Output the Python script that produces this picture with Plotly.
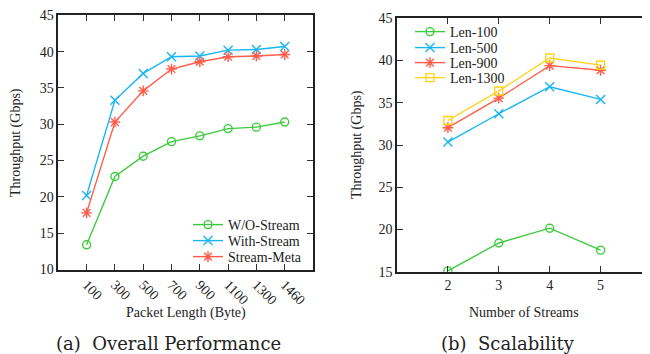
import plotly.graph_objects as go

# ---- data: panel (a) ----
pkt_len = ["100", "300", "500", "700", "900", "1100", "1300", "1460"]
wo_stream = [13.4, 22.8, 25.6, 27.6, 28.4, 29.4, 29.6, 30.3]
with_stream = [20.2, 33.3, 37.0, 39.3, 39.4, 40.2, 40.3, 40.7]
stream_meta = [17.8, 30.3, 34.6, 37.6, 38.6, 39.3, 39.4, 39.6]

# ---- data: panel (b) ----
n_streams = [2, 3, 4, 5]
len100 = [15.1, 18.4, 20.15, 17.55]
len500 = [30.35, 33.7, 36.9, 35.4]
len900 = [32.05, 35.55, 39.4, 38.85]
len1300 = [32.9, 36.4, 40.3, 39.45]

GREEN = "#3dcc3d"
CYAN = "#18b6f5"
RED = "#ff5d4a"
YELLOW = "#ffd21e"
FONT = "Times New Roman, Liberation Serif, Tinos, serif"
CAP_FONT = "DejaVu Serif"
W, H = 650, 354
OFF = 8  # page body margin offset


def px(x):
    return (x - OFF) / W


def py(y):
    return 1 - (y - OFF) / H


fig = go.Figure()


def add(x, y, name, color, symbol, xa, ya, legend, size=8):
    fig.add_trace(go.Scatter(
        x=x, y=y, name=name, mode="lines+markers",
        line=dict(color=color, width=1.4),
        marker=dict(symbol=symbol, size=size, color=color,
                    line=dict(color=color, width=1.4)),
        xaxis=xa, yaxis=ya, legend=legend,
    ))


add(pkt_len, wo_stream, "W/O-Stream", GREEN, "circle-open", "x", "y", "legend")
add(pkt_len, with_stream, "With-Stream", CYAN, "x-thin-open", "x", "y", "legend2", 9)
add(pkt_len, stream_meta, "Stream-Meta", RED, "asterisk-open", "x", "y", "legend3", 9)

add(n_streams, len100, "Len-100", GREEN, "circle-open", "x2", "y2", "legend4")
add(n_streams, len500, "Len-500", CYAN, "x-thin-open", "x2", "y2", "legend5", 9)
add(n_streams, len900, "Len-900", RED, "asterisk-open", "x2", "y2", "legend6", 9)
add(n_streams, len1300, "Len-1300", YELLOW, "square-open", "x2", "y2", "legend7")

axis_common = dict(
    showline=True, linecolor="#222", linewidth=1.5, mirror="ticks",
    ticks="inside", ticklen=6, tickcolor="#333", tickwidth=1,
    showgrid=False, zeroline=False, automargin=False,
    tickfont=dict(family=FONT, size=14, color="#222"),
)


def leg(x, y):
    return dict(x=px(x), y=py(y), xanchor="left", yanchor="middle",
                bgcolor="rgba(0,0,0,0)", font=dict(family=FONT, size=14, color="#222"),
                itemwidth=30, borderwidth=0)


fig.update_layout(
    width=W, height=H,
    margin=dict(l=0, r=0, t=0, b=0, autoexpand=False),
    paper_bgcolor="white", plot_bgcolor="white",
    font=dict(family=FONT, size=14, color="#222"),
    xaxis=dict(axis_common, type="category", domain=[px(58.3), px(313)],
               range=[-1, 8], tickangle=45, anchor="y"),
    yaxis=dict(axis_common, domain=[py(269.5), py(15.3)], range=[10, 45],
               dtick=5, anchor="x"),
    xaxis2=dict(axis_common, domain=[px(397), px(650)], range=[1, 5.97],
                tickvals=n_streams, anchor="y2"),
    yaxis2=dict(axis_common, domain=[py(271.7), py(18.3)], range=[15, 45],
                dtick=5, anchor="x2"),
    legend=leg(188, 225),
    legend2=leg(188, 241),
    legend3=leg(188, 257),
    legend4=leg(410, 32),
    legend5=leg(410, 48),
    legend6=leg(410, 63),
    legend7=leg(410, 78),
    showlegend=True,
)

ann = [
    dict(text="Throughput (Gbps)", x=px(16), y=py(143), textangle=-90, size=14, f=FONT),
    dict(text="Throughput (Gbps)", x=px(357), y=py(145), textangle=-90, size=14, f=FONT),
    dict(text="Packet Length (Byte)", x=px(186), y=py(313), textangle=0, size=14, f=FONT),
    dict(text="Number of Streams", x=px(524), y=py(312), textangle=0, size=14, f=FONT),
    dict(text="(a)  Overall Performance", x=px(168), y=py(343), textangle=0, size=18, f=CAP_FONT),
    dict(text="(b)  Scalability", x=px(508), y=py(343), textangle=0, size=18, f=CAP_FONT),
]
for a in ann:
    fig.add_annotation(
        text=a["text"], x=a["x"], y=a["y"], xref="paper", yref="paper",
        xanchor="center", yanchor="middle", showarrow=False,
        textangle=a["textangle"],
        font=dict(family=a["f"], size=a["size"], color="#222"),
    )

fig.write_html("out.html")
